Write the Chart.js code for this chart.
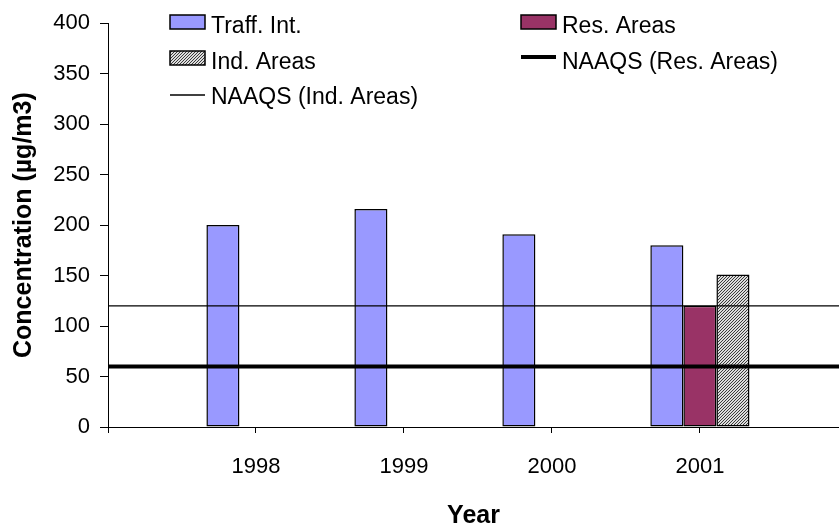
<!DOCTYPE html>
<html>
<head>
<meta charset="utf-8">
<script src="https://cdn.jsdelivr.net/npm/chart.js@4/dist/chart.umd.min.js"></script>
<style>
  html, body { margin: 0; padding: 0; background: #fff; }
  #wrap { width: 839px; height: 527px; position: relative; }
</style>
</head>
<body>
<div id="wrap"><canvas id="chart"></canvas></div>
<script>
const years = ["1998", "1999", "2000", "2001"];
const yearPositions = [1, 2, 3, 4];
const traffInt = [200, 216, 191, 180];
const resAreas = [null, null, null, 120];
const indAreas = [null, null, null, 151];
// limit lines run across the whole axis, from the blank slot before 1998 to the one after 2001
const limitPositions = [0, 1, 2, 3, 4, 5];
const naaqsRes = [60, 60, 60, 60, 60, 60];
const naaqsInd = [120, 120, 120, 120, 120, 120];
const yTicks = [0, 50, 100, 150, 200, 250, 300, 350, 400];

const FONT = "'Liberation Sans', Arial, sans-serif";

function hatch() {
  const c = document.createElement("canvas");
  c.width = 3;
  c.height = 3;
  const g = c.getContext("2d");
  g.fillStyle = "#dcdcdc";
  g.fillRect(0, 0, 3, 3);
  g.fillStyle = "#3a3a3a";
  for (let y = 0; y < 3; y++) {
    for (let x = 0; x < 3; x++) {
      if ((x + y) % 3 === 0) g.fillRect(x, y, 1, 1);
    }
  }
  return g.createPattern(c, "repeat");
}
const hatchPattern = hatch();

const pts = (xs, ys) => xs.map((x, i) => ({ x, y: ys[i] }));

// legend laid out in two columns inside the plot, like the original
const LEGEND_SLOTS = [
  { ds: 0, x: 170, y: 15, baseline: 33 },
  { ds: 1, x: 521, y: 15, baseline: 33 },
  { ds: 2, x: 170, y: 51, baseline: 69 },
  { ds: 3, x: 521, y: 51, baseline: 69 },
  { ds: 4, x: 170, y: 89, baseline: 104 },
];

const legendPlugin = {
  id: "fixedLegend",
  afterDraw(chart) {
    const ctx = chart.ctx;
    ctx.save();
    ctx.font = `23px ${FONT}`;
    ctx.textAlign = "left";
    ctx.textBaseline = "alphabetic";
    for (const slot of LEGEND_SLOTS) {
      const ds = chart.data.datasets[slot.ds];
      const w = 35;
      if (ds.type === "line") {
        const ly = slot.y + 6;
        ctx.strokeStyle = ds.borderColor;
        ctx.lineWidth = ds.borderWidth;
        ctx.beginPath();
        ctx.moveTo(slot.x, ly);
        ctx.lineTo(slot.x + w, ly);
        ctx.stroke();
      } else {
        ctx.fillStyle = ds.backgroundColor;
        ctx.fillRect(slot.x, slot.y, w, 14);
        ctx.strokeStyle = "#000";
        ctx.lineWidth = 1.5;
        ctx.strokeRect(slot.x, slot.y, w, 14);
      }
      ctx.fillStyle = "#000";
      ctx.fillText(ds.label, slot.x + w + 6, slot.baseline);
    }
    ctx.restore();
  },
};

new Chart(document.getElementById("chart"), {
  data: {
    datasets: [
      {
        type: "bar",
        label: "Traff. Int.",
        data: pts(yearPositions, traffInt),
        backgroundColor: "#9999ff",
        borderColor: "#000",
        borderWidth: 1.5,
        borderSkipped: false,
        order: 2,
      },
      {
        type: "bar",
        label: "Res. Areas",
        data: pts(yearPositions, resAreas),
        backgroundColor: "#993366",
        borderColor: "#000",
        borderWidth: 1.5,
        borderSkipped: false,
        order: 2,
      },
      {
        type: "bar",
        label: "Ind. Areas",
        data: pts(yearPositions, indAreas),
        backgroundColor: hatchPattern,
        borderColor: "#000",
        borderWidth: 1.5,
        borderSkipped: false,
        order: 2,
      },
      {
        type: "line",
        label: "NAAQS (Res. Areas)",
        data: pts(limitPositions, naaqsRes),
        borderColor: "#000",
        borderWidth: 4,
        pointRadius: 0,
        order: 1,
      },
      {
        type: "line",
        label: "NAAQS (Ind. Areas)",
        data: pts(limitPositions, naaqsInd),
        borderColor: "#000",
        borderWidth: 1.4,
        pointRadius: 0,
        order: 1,
      },
    ],
  },
  options: {
    responsive: true,
    maintainAspectRatio: false,
    animation: false,
    layout: { padding: { top: 23, right: 0, bottom: 0, left: 0 } },
    datasets: {
      bar: { categoryPercentage: 0.67, barPercentage: 1, grouped: true },
    },
    plugins: { legend: { display: false }, tooltip: { enabled: false } },
    scales: {
      x: {
        type: "linear",
        offset: false,
        min: 0,
        max: 4.94,
        ticks: {
          stepSize: 1,
          includeBounds: false,
          color: "#000",
          font: { family: FONT, size: 22 },
          padding: 21,
          maxRotation: 0,
          callback: (v) => years[yearPositions.indexOf(v)] || "",
        },
        grid: {
          offset: false,
          drawOnChartArea: false,
          drawTicks: true,
          tickLength: 6,
          color: "#000",
        },
        border: { display: true, color: "#000", width: 1 },
        title: {
          display: true,
          text: "Year",
          color: "#000",
          font: { family: FONT, size: 25, weight: "bold", lineHeight: 0.85 },
          padding: { top: 0, bottom: 0 },
        },
        afterFit: (s) => { s.height = 100; },
      },
      y: {
        min: 0,
        max: 400,
        afterBuildTicks: (s) => { s.ticks = yTicks.map((value) => ({ value })); },
        ticks: {
          color: "#000",
          font: { family: FONT, size: 22 },
          padding: 10,
        },
        grid: {
          drawOnChartArea: false,
          drawTicks: true,
          tickLength: 8,
          color: "#000",
        },
        border: { display: true, color: "#000", width: 1 },
        title: {
          display: true,
          text: "Concentration (µg/m3)",
          color: "#000",
          font: { family: FONT, size: 25, weight: "bold", lineHeight: 1 },
          padding: { top: 12, bottom: 0 },
        },
        afterFit: (s) => { s.width = 108; },
      },
    },
  },
  plugins: [legendPlugin],
});
</script>
</body>
</html>
